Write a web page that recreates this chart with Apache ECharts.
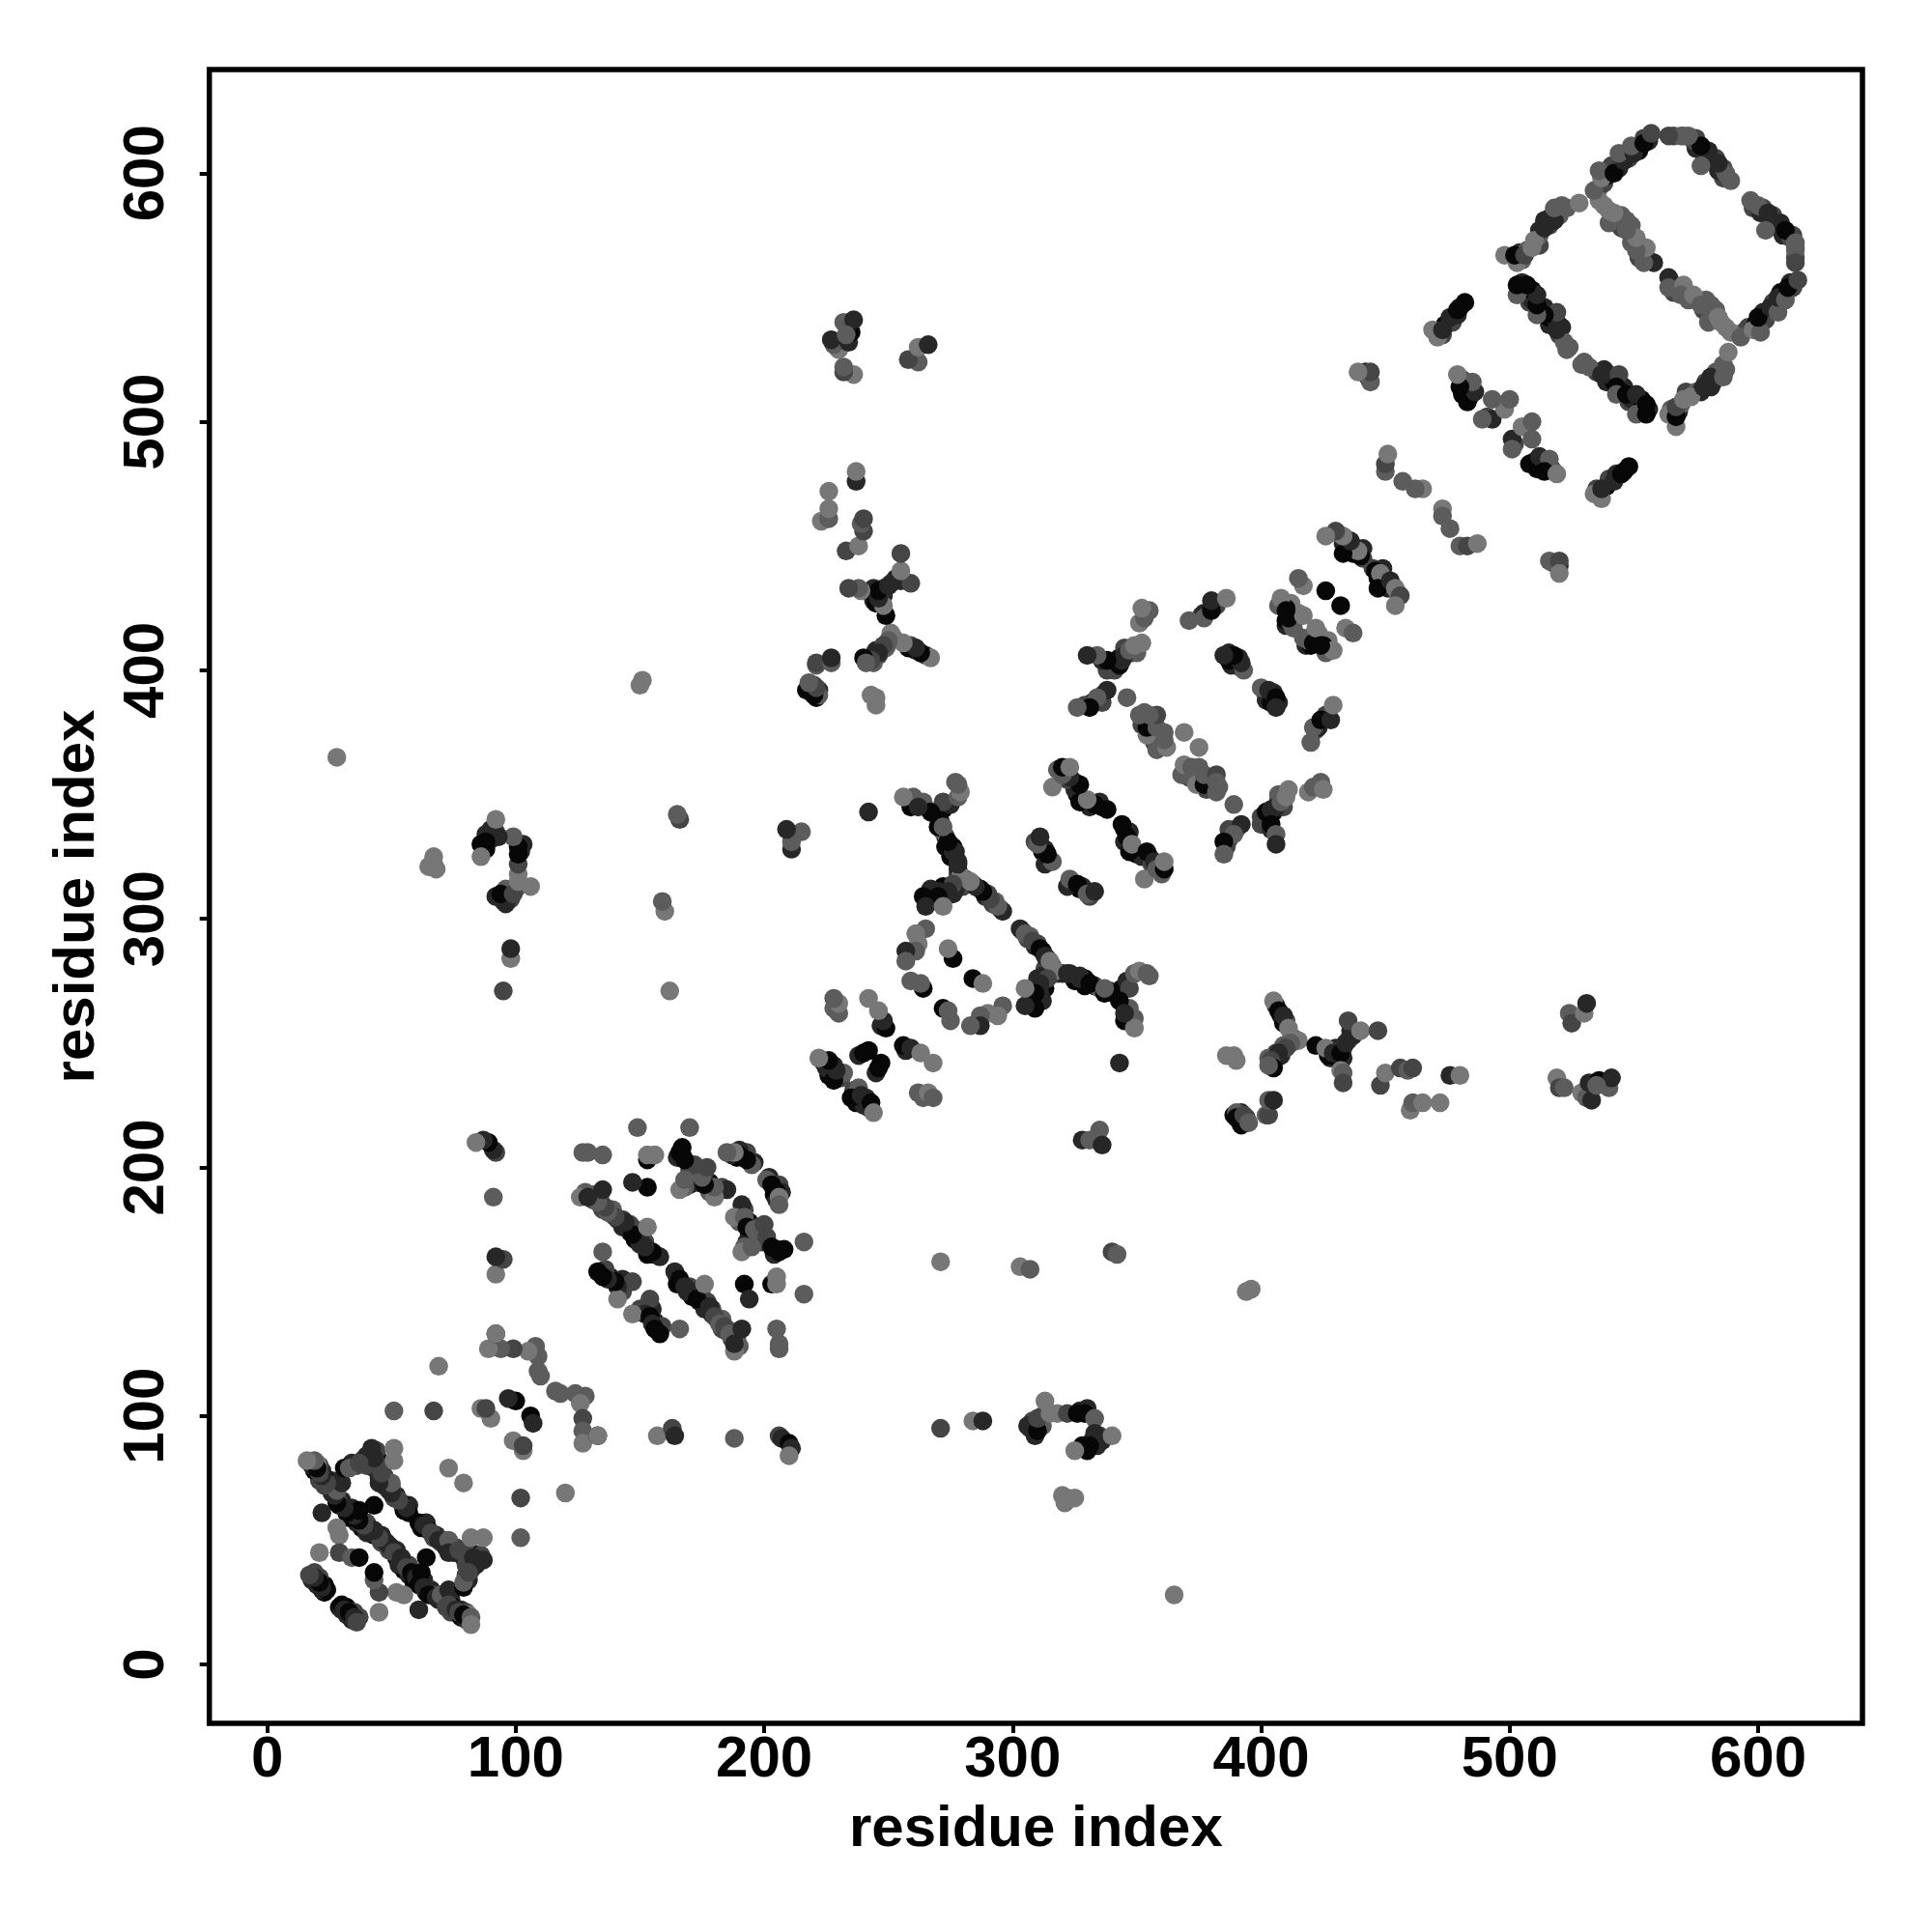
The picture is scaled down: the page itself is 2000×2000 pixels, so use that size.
<!DOCTYPE html>
<html><head><meta charset="utf-8">
<script src="https://cdn.jsdelivr.net/npm/echarts@6/dist/echarts.min.js"></script>
<style>html,body{margin:0;padding:0;background:#fff}#c{width:2000px;height:2000px}</style>
</head><body><div id="c"></div>
<script>
// Contacts: [residue i, residue j, score 1 (weak) .. 5 (strong)]. The map is symmetric.
const strandsA = [
[49,46,3],[52,46,4],[52,43,5],[55,41,4],[55,38,5],[57,40,3],[57,36,4],[59,36,5],[59,33,5],[61,35,3],[63,34,4],[64,29,5],[66,30,4],[67,28,3],[69,26,4],[71,26,3],[74,26,4],[75,23,5],[74,21,3],[78,22,4],[78,19,5],[80,21,3],[80,18,4],[81,20,1],
[62,55,5],[64,57,4],[65,54,5],[67,51,3],[68,52,4],[70,49,3],[71,50,3],[72,47,4],[74,48,3],[75,45,4],[76,47,3],[78,45,2],[79,43,4],[80,46,3],[82,45,4],[84,44,5],[85,42,5],[86,44,3],[80,36,3],[81,34,4],[82,38,3],[84,40,4],[80,40,3],
[29,23,5],[30,22,4],[32,23,5],[32,20,4],[34,20,5],[34,18,4],[35,21,3],[37,19,3]
];
const strandsB = [
[165,156,5],[167,153,4],[165,153,5],[170,152,3],[171,148,5],[172,150,4],[174,146,4],[175,148,3],[176,143,4],[177,146,3],[179,143,3],[179,141,4],[181,139,3],[183,139,2],[183,135,3],[185,134,3],[187,131,3],[187,134,2],[189,131,2],[190,128,2],
[157,135,5],[156,138,4],[159,136,3],[153,143,5],[155,143,4],[150,143,3],
[202,196,4],[204,192,5],[206,193,3],[204,189,5],[207,190,4],[205,187,4],[194,178,5],[192,183,3],[190,178,2],[194,173,4],[198,176,3],[197,172,4],[199,170,3],[193,170,4],[192,168,2],[205,167,4],[204,165,4]
];
const strandsC = [
[304,295,3],[306,292,3],[307,293,2],[309,289,4],[310,290,3],[312,287,5],[314,284,2],[316,281,2],[318,278,3],[320,278,4],[324,277,4],[325,275,5],[329,276,5],[329,273,5],[333,273,4],[335,272,2],[339,271,4],
[313,280,3],[312,277,4],[310,276,4],[313,272,5],[311,270,4],[308,268,5],[307,270,5],[312,267,4],
[323,278,4],[327,277,4],[331,274,5],[337,270,5],[342,269,5],[344,272,5],[346,275,4],[347,272,3],[349,278,2],[351,279,1],[354,278,2],[355,277,2],[347,264,2],[345,259,5],[349,260,2],[349,256,1],[343,267,5],[345,262,4],
[257,247,4],[245,238,4],[247,242,5],[236,231,3],[237,226,5],[240,225,4],[242,224,4],[238,232,2]
];
const strandsD = [
[406,265,4],[408,261,4],[410,259,3],[409,258,5],[413,252,3],[411,250,3],[409,249,2],[408,245,4],[406,246,3],[405,243,3],[404,241,5],[406,244,4],[403,244,2],[428,244,4],[430,248,4],[431,244,5],[433,248,3],[435,251,3],[436,255,4],[427,245,5],[433,244,4],
[391,219,4],[392,222,4],[389,221,5],[394,220,3],
[327,312,5],[328,313,4],[331,309,3],
[345,336,5],[347,335,4],[345,331,4],[348,328,5],[350,326,5],[352,325,4],[355,325,4],[356,322,3],[359,322,4],[360,318,2],
[370,360,2],[371,357,3],[373,356,2],[376,356,3],[378,352,3],[380,355,3],[381,353,3],[383,353,2],
[401,340,4],[403,341,4],[405,343,5],[407,348,3],[409,345,3],[403,339,5],[402,338,4],[400,338,3],[404,336,4],[407,350,2],
[387,332,4],[387,336,3],[390,336,3],[386,329,3],
[401,392,3],[402,388,4],[405,391,4],[404,387,5],[407,387,4],
[418,410,4],[421,414,3],[422,411,4],[424,412,2],[427,410,3],[427,412,1],
[422,376,3],[426,382,3],[423,377,4]
];
const strandsE = [
[447,437,5],[449,436,4],[450,437,2],[451,433,4],[453,434,3],[455,431,2],[449,441,4],[445,441,3],
[518,443,3],[520,442,4],[502,491,3],[510,484,4],[513,484,5],[515,482,4],[511,481,5],[517,481,3],
[535,473,3],[539,474,5],[540,477,3],[543,479,4],[546,480,5],
[530,524,2],[535,520,3],[538,521,4],[539,516,4],[541,517,4],[542,516,5],[545,513,5],[546,514,4],[548,508,3],[549,509,4],[552,507,4],[553,509,5],[554,505,4],[556,505,4],
[565,505,2],[568,504,4],[569,507,2],[571,512,3],[575,512,2],[577,512,4],[579,516,3],[582,516,3],[583,520,2],[587,521,2],
[565,556,3],[566,552,3],[568,553,2],[571,552,2],[572,549,2],[575,549,2],[578,545,3],[579,549,2],[582,543,2],[583,545,2],[587,538,1],
[594,536,2],[596,538,3],[599,539,5],[602,544,4],[603,541,3],[606,548,3],[607,546,4],[609,552,5],[610,549,3],[613,556,4],[614,554,3],
[598,586,3],[601,584,4],[602,586,3],[605,581,4],[606,583,3],[608,578,5],[609,580,4],[610,575,4],[613,574,3],[614,575,3],[615,570,2],[615,566,3],
[307,95,3],[308,98,3],[309,92,4],[311,97,3],[312,100,3],[312,96,2],[327,102,4],[330,103,4],[332,90,4],[335,92,3],[334,88,4],[330,86,5]
];
const contactsN = [
[48,49,4],[50,47,4],[51,45,3],[53,40,4],[54,43,4],[56,39,3],[58,37,5],[60,35,4],[61,32,5],[62,37,5],[64,43,5],[63,31,4],[65,28,5],[68,27,4],[70,28,2],[73,30,4],[72,23,3],[73,24,3],[76,22,4],[77,21,3],[79,20,5],[82,19,2],[82,16,1],
[61,57,5],[63,56,4],[66,53,3],[69,50,4],[73,50,2],[73,45,4],[77,46,3],[81,44,3],[83,43,4],[87,42,4],[82,51,1],[87,51,1],[79,31,5],[79,33,2],[81,37,3],[61,22,4],[55,28,1],[52,29,1],[45,29,3],[45,21,1],[43,34,2],[43,37,5],
[79,73,1],[102,51,2],[102,67,3],[120,69,1],
[30,24,5],[31,22,4],[33,21,5],[35,19,4],[36,17,3]
];
const contactsB = [
[116,110,2],[118,109,2],[124,109,2],[128,108,2],[126,105,1],[127,99,3],[127,94,2],[127,89,1],[133,92,5],[133,92,1],[106,100,5],[107,97,4],[99,90,1],[103,86,1],[103,88,3],
[157,92,1],[163,95,3],[164,92,4],[188,91,2],[206,92,3],[207,91,4],[210,89,5],[211,87,4],[210,84,1]
];
const contactsC = [
[154,147,3],[152,141,4],[147,141,1],[154,140,5],[155,137,4],[156,135,5],[158,133,5],[166,135,2],
[164,158,4],[166,155,5],[168,152,4],[169,150,4],[173,147,5],[176,153,1],[178,144,4],[180,140,3],[182,137,2],[184,136,3],[186,133,2],[188,126,1],[188,129,4],[191,135,4],
[201,195,2],[203,193,5],[205,190,5],[206,188,1],[206,185,2],[191,185,4],[188,180,1],[192,180,2],[193,176,5],[196,175,2],[200,177,3],[201,172,3],[191,166,1],[195,168,2],[203,168,5],[206,166,5],[208,167,5],[216,170,2],
[192,153,5],[194,147,4],[203,153,5],[205,156,1],[205,153,1],[216,149,2],[205,135,2],[206,129,2],[206,127,2]
];
const contactsD = [
[303,296,4],[305,294,2],[308,291,3],[311,288,5],[313,285,4],[315,283,1],[317,279,1],
[322,278,4],[327,276,4],[331,274,5],[337,272,2],[314,276,3],[311,274,4],[309,270,5],[309,264,5],[305,265,4],[305,272,1],
[284,276,5],[288,274,1],[272,264,5],[274,263,2],[275,259,2],[296,265,2],[294,261,1],[290,262,1],[287,261,2],[287,257,4],[283,257,2],
[256,249,5],[259,248,4],[263,246,1],[268,242,1],[246,240,5],[235,228,5],[239,229,4],[241,228,4],[243,226,5],[244,222,1],[262,230,2],[264,228,2],[266,230,1],[268,228,2],
[343,242,4],[328,211,4],[331,211,2],[335,215,2],[336,209,4]
];
const contactsE = [
[271,162,1],[303,160,1],[307,159,2],[340,166,3],[342,165,2],[396,151,1],[394,150,1],[365,28,1],
[271,95,3],[284,98,1],[288,98,4],[306,96,4],[310,94,5],[310,99,3],[313,106,1],[315,101,1],[318,101,1],[322,101,3],[326,101,5],[329,101,5],[333,99,2],[333,93,4],[336,90,4],[331,88,5],[328,88,5],[325,86,1],[340,92,1],
[320,68,1],[322,67,1],[325,67,1],[321,65,1],[322,66,1]
];
const contactsF = [
[405,267,1],[407,263,5],[409,261,4],[411,256,1],[415,251,1],[412,250,2],[410,248,3],[407,246,4],[404,243,3],[405,240,5],[403,241,2],
[386,245,1],[389,245,1],[390,243,1],[390,222,2],[390,220,5],[392,217,5],[393,221,3],[395,218,2],[402,221,2],[403,221,3],[403,227,2],[405,227,4],
[422,249,5],[426,248,1],[429,246,4],[432,246,5],[434,250,4],[437,253,4],[435,259,3],[440,255,1],[447,255,3],[432,239,1],[433,238,2],[433,234,3],
[448,233,3],[450,238,1],[456,240,3],[459,239,2],[461,240,3],[460,223,1],[461,226,2],[465,226,1],[472,226,1],[476,237,4],[480,237,1],
[519,236,1],[520,232,3],[522,232,2],[529,230,1],[531,228,2],[533,227,4],[532,234,4],[536,235,5],[540,232,2],[541,236,4],[535,233,2],
[524,262,2],[525,258,3],[530,262,1],[531,266,4]
];
const contactsG = [
[322,313,4],[323,316,2],[326,314,5],[330,310,2],[333,311,4],
[344,338,5],[346,333,5],[347,327,5],[348,330,1],[353,316,1],[354,327,5],[357,323,4],[358,320,2],[361,320,5],[361,323,1],
[368,358,2],[369,362,1],[372,361,2],[375,361,2],[375,369,1],[374,354,1],[377,354,5],[377,358,2],[382,358,3],[382,355,2],[382,351,2],[389,346,2],
[392,338,4],[389,334,2],[385,331,5],[385,326,2],
[400,341,3],[402,343,5],[404,344,4],[406,345,4],[408,347,2],[410,349,1],[411,352,1],[404,338,5],[406,334,2],[406,330,4],
[419,351,1],[421,353,2],[424,355,2],[425,352,1],
[420,371,2],[421,377,2],[424,380,5],[428,380,4],[429,386,1],
[400,393,2],[403,392,4],[406,389,5],[406,385,4],
[417,413,2],[420,410,5],[423,415,1],[425,410,5],[426,407,2],[429,408,1]
];
const contactsH = [
[419,412,2],[421,411,5],[422,417,1],[424,410,5],[432,426,5],[434,417,1],[437,415,2],
[446,440,5],[448,439,1],[447,433,5],[452,436,4],[454,433,1],[456,430,3],[454,426,1],
[473,465,1],[473,462,2],[476,457,2],[480,450,2],[483,450,3],[487,451,1],[516,444,2],[520,444,3],[520,439,1],
[501,493,4],[501,489,2],[505,498,1],[509,500,2],[509,493,2],[508,483,5],[512,486,4],[516,485,2],[514,480,5],[519,479,1],
[534,471,1],[537,469,1],[537,473,4],[542,476,4],[545,479,5],[548,482,5]
];
const contactsI = [
[529,523,2],[532,522,2],[537,519,4],[540,519,4],[544,519,3],[543,514,5],[543,511,2],[547,511,5],[551,511,4],[551,503,2],[555,507,5],[555,503,5],
[564,503,1],[567,498,1],[567,502,5],[567,506,3],[570,509,1],[573,510,1],[578,514,4],[581,514,4],[581,518,4],[586,518,2],[586,523,2],[588,528,1],
[564,558,4],[564,554,2],[570,555,1],[569,551,2],[574,551,1],[577,547,2],[581,547,2],[580,540,2],[584,542,1],[585,540,1],[589,536,1],
[593,534,2],[598,537,1],[601,536,2],[600,542,5],[605,546,4],[608,544,2],[608,550,4],[611,549,2],[612,554,5],[616,557,3],
[597,589,2],[600,587,2],[604,584,4],[607,579,4],[603,577,2],[611,577,5],[615,572,2],[615,569,2],[615,564,3]
];
const tickValues = [0,100,200,300,400,500,600];
const axisTitle = 'residue index';

const shades = {1:'#777777',2:'#5c5c5c',3:'#454545',4:'#272727',5:'#070707'};
const lower = [].concat(strandsA,strandsB,strandsC,strandsD,strandsE,contactsN,contactsB,contactsC,contactsD,contactsE,contactsF,contactsG,contactsH,contactsI);
const points = [];
lower.forEach(function(c){ points.push([c[0],c[1],c[2]]); points.push([c[1],c[0],c[2]]); });

const font = '"Liberation Sans", Arial, sans-serif';
function axis(extra){
  return Object.assign({
    type:'value',
    splitLine:{show:false},
    axisLine:{show:false,onZero:false},
    axisTick:{show:true,length:10,lineStyle:{color:'#000',width:4},customValues:tickValues},
    nameLocation:'middle',
    name:axisTitle,
    nameTextStyle:{color:'#000',fontFamily:font,fontWeight:'bold',fontSize:60}
  },extra);
}
const chart = echarts.init(document.getElementById('c'),null,{renderer:'canvas'});
chart.setOption({
  animation:false,
  backgroundColor:'#fff',
  grid:{left:216.7,top:72,width:1711.3,height:1712,show:true,borderColor:'#000',borderWidth:5.5,backgroundColor:'transparent',z:10},
  xAxis:axis({min:-23.3,max:642,nameGap:80,
    axisLabel:{color:'#000',fontFamily:font,fontWeight:'bold',fontSize:60,margin:8,customValues:tickValues}}),
  yAxis:axis({min:-23.7,max:641.7,nameGap:106,
    axisLabel:{color:'#000',fontFamily:font,fontWeight:'bold',fontSize:60,rotate:90,margin:34,customValues:tickValues}}),
  series:[{
    type:'scatter',
    data:points,
    symbol:'circle',
    symbolSize:19.5,
    silent:true,
    itemStyle:{opacity:1,color:function(p){return shades[p.value[2]];}}
  }]
});
</script></body></html>
